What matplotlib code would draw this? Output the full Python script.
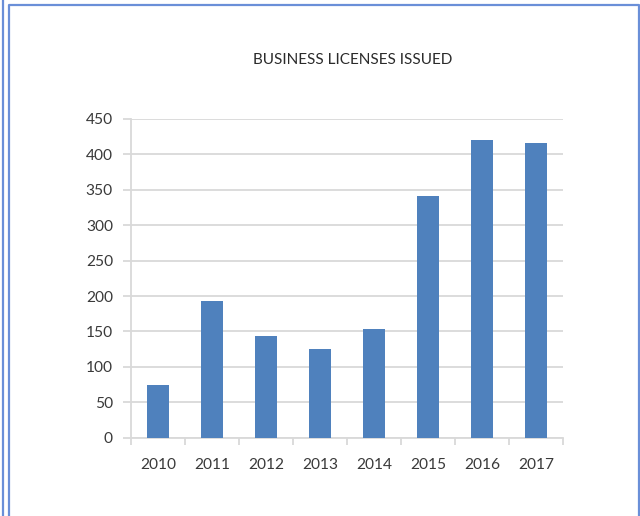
import matplotlib.pyplot as plt
from matplotlib.lines import Line2D

# data
years = ['2010', '2011', '2012', '2013', '2014', '2015', '2016', '2017']
licenses = [74, 193, 143, 125, 153, 341, 420, 416]
y_ticks = [0, 50, 100, 150, 200, 250, 300, 350, 400, 450]

bar_color = '#4f81bd'
grid_color = '#d9d9d9'
text_color = '#3a3a3a'
frame_color = '#6a8fd8'

plt.rcParams['font.family'] = ['Lato', 'DejaVu Sans']

fig = plt.figure(figsize=(6.4, 5.16), dpi=100)
ax = fig.add_axes([131 / 640, 78.3 / 516, 432 / 640, 318.7 / 516])

x = range(len(years))
ax.bar(x, licenses, width=0.4, color=bar_color, zorder=3)

ax.set_xlim(-0.5, len(years) - 0.5)
ax.set_ylim(0, 450)
ax.set_yticks(y_ticks)
ax.yaxis.grid(True, color=grid_color, linewidth=1.3, zorder=0)

# category labels in the middle, tick marks on the boundaries
ax.set_xticks(list(x))
ax.set_xticklabels(years)
ax.set_xticks([i - 0.5 for i in range(len(years) + 1)], minor=True)
ax.tick_params(axis='x', which='major', length=0, pad=14.5, labelsize=11.2, labelcolor=text_color)
ax.tick_params(axis='x', which='minor', length=5, color=grid_color, width=1.3)
ax.tick_params(axis='y', length=6, color=grid_color, width=1.3, pad=7, labelsize=11.2, labelcolor=text_color)

for side in ['top', 'right']:
    ax.spines[side].set_visible(False)
for side in ['left', 'bottom']:
    ax.spines[side].set_color(grid_color)
    ax.spines[side].set_linewidth(1.3)

fig.text(353 / 640, 1 - 59.5 / 516, 'BUSINESS LICENSES ISSUED', ha='center', va='center',
         fontsize=11, color='#2b2b2b')

# blue frame lines around the picture
W, H = 640, 516
fig.add_artist(Line2D([3 / W, 3 / W], [0, 1], color=frame_color, linewidth=1.6))
fig.add_artist(Line2D([8.5 / W, 8.5 / W, 638.5 / W, 638.5 / W], [0, 1 - 4.5 / H, 1 - 4.5 / H, 0],
                      color=frame_color, linewidth=1.6))

fig.savefig('out.png', dpi=100)
